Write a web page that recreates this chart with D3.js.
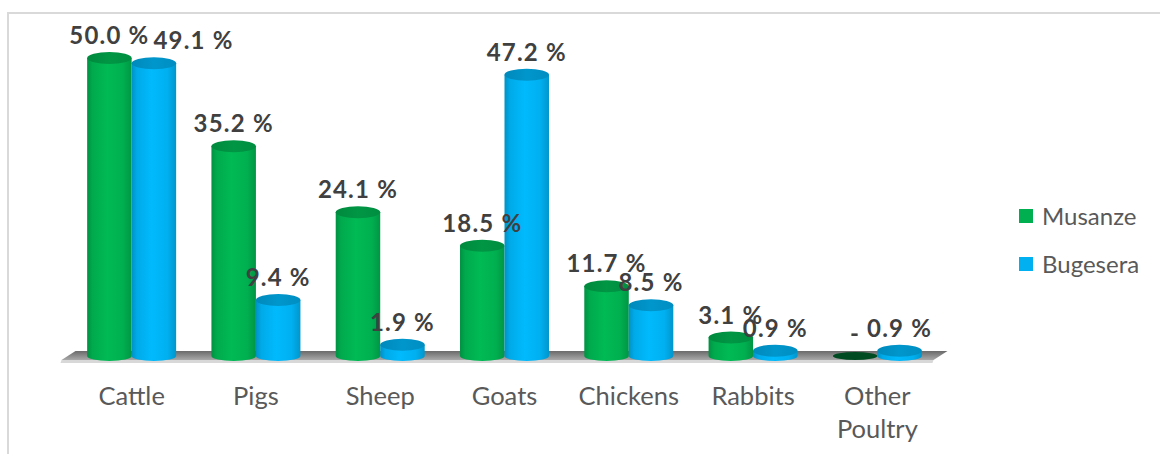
<!DOCTYPE html>
<html>
<head>
<meta charset="utf-8">
<script src="https://cdn.jsdelivr.net/npm/d3@7"></script>
<style>
  html, body { margin: 0; padding: 0; background: #fff; }
  svg { display: block; }
</style>
</head>
<body>
<svg id="chart" width="1160" height="454"></svg>
<script>
const categories = ["Cattle", "Pigs", "Sheep", "Goats", "Chickens", "Rabbits", "Other Poultry"];
const seriesNames = ["Musanze", "Bugesera"];
const musanze = [50.0, 35.2, 24.1, 18.5, 11.7, 3.1, 0];
const bugesera = [49.1, 9.4, 1.9, 47.2, 8.5, 0.9, 0.9];
const seriesColors = ["#00B050", "#00B0F0"];

const svg = d3.select("#chart");
const W = 1160, H = 454;
const FONT = "Lato, 'Open Sans', sans-serif";

// frame
svg.append("path").attr("d", `M8,${H} L8,13 L${W},13`)
  .attr("fill", "none").attr("stroke", "#d9d9d9").attr("stroke-width", 2);

const x0 = d3.scaleBand().domain(categories).range([69.5, 939.5]).paddingInner(0).paddingOuter(0);
const groupW = x0.bandwidth() * 0.716;
const x1 = d3.scaleBand().domain(seriesNames).range([0, groupW]).padding(0);
const y = d3.scaleLinear().domain([0, 50]).range([356, 58]);

const defs = svg.append("defs");
function shade(c, k) { return d3.color(c).darker(k).formatHex(); }
function lift(c, k) { return d3.color(c).brighter(k).formatHex(); }
seriesColors.forEach((c, i) => {
  const g = defs.append("linearGradient").attr("id", "body" + i).attr("x1", 0).attr("x2", 1).attr("y1", 0).attr("y2", 0);
  g.append("stop").attr("offset", 0).attr("stop-color", shade(c, 0.55));
  g.append("stop").attr("offset", 0.12).attr("stop-color", shade(c, 0.1));
  g.append("stop").attr("offset", 0.45).attr("stop-color", lift(c, 0.15));
  g.append("stop").attr("offset", 0.8).attr("stop-color", c);
  g.append("stop").attr("offset", 1).attr("stop-color", shade(c, 0.45));
  const t = defs.append("linearGradient").attr("id", "top" + i).attr("x1", 0).attr("x2", 1).attr("y1", 0).attr("y2", 0);
  t.append("stop").attr("offset", 0).attr("stop-color", shade(c, 0.7));
  t.append("stop").attr("offset", 0.5).attr("stop-color", shade(c, 0.45));
  t.append("stop").attr("offset", 1).attr("stop-color", shade(c, 0.6));
});
const fg = defs.append("linearGradient").attr("id", "floor").attr("x1", 0).attr("x2", 0).attr("y1", 0).attr("y2", 1);
fg.append("stop").attr("offset", 0).attr("stop-color", "#6a6a6a");
fg.append("stop").attr("offset", 1).attr("stop-color", "#a9a9a9");

// floor
const [rx0, rx1] = x0.range();
const yF = y(0);
svg.append("path")
  .attr("d", `M${rx0 + 6},${yF - 5} L${rx1 + 8},${yF - 5} L${rx1 - 6},${yF + 4} L${rx0 - 8},${yF + 4} Z`)
  .attr("fill", "url(#floor)");
svg.append("path")
  .attr("d", `M${rx0 - 8},${yF + 4} L${rx1 - 6},${yF + 4} L${rx1 - 7},${yF + 7} L${rx0 - 9},${yF + 7} Z`)
  .attr("fill", "#d8d8d8");

const ry = 6;
const data = [musanze, bugesera];
const labelLayer = [];

data.forEach((vals, si) => {
  const g = svg.append("g");
  categories.forEach((cat, ci) => {
    const v = vals[ci];
    const bx = x0(cat) + (x0.bandwidth() - groupW) / 2 + x1(seriesNames[si]);
    const bw = x1.bandwidth();
    const cx = bx + bw / 2;
    const yt = y(v), yb = y(0);
    if (v > 0) {
      g.append("path")
        .attr("d", `M${bx},${yt} L${bx},${yb} A${bw / 2},${ry - 1} 0 0 0 ${bx + bw},${yb} L${bx + bw},${yt} Z`)
        .attr("fill", `url(#body${si})`);
      g.append("ellipse").attr("cx", cx).attr("cy", yt).attr("rx", bw / 2).attr("ry", ry)
        .attr("fill", `url(#top${si})`);
    } else {
      g.append("ellipse").attr("cx", cx).attr("cy", yb).attr("rx", bw / 2).attr("ry", ry - 2)
        .attr("fill", shade(seriesColors[si], 2.4));
    }
    labelLayer.push({ si, ci, cx, yt, text: v > 0 ? d3.format(".1f")(v) + " %" : "-" });
  });
});

// value labels
const lg = svg.append("g").attr("font-family", FONT).attr("font-weight", "bold")
  .attr("font-size", 24).attr("fill", "#404040").attr("letter-spacing", 1.2);
const placed = {};
labelLayer.forEach(L => {
  const t = lg.append("text").attr("x", L.cx).attr("y", L.yt - ry - 8)
    .attr("text-anchor", "middle").text(L.text);
  if (L.si === 0) placed[L.ci] = { node: t.node(), yt: L.yt };
  else {
    const p = placed[L.ci];
    if (p && Math.abs(p.yt - L.yt) < 12) {
      const pb = p.node.getBBox();
      const b = t.node().getBBox();
      if (b.x < pb.x + pb.width + 4) {
        t.attr("text-anchor", "start").attr("x", pb.x + pb.width + 4);
      }
    }
  }
});

// category labels
const cg = svg.append("g").attr("font-family", FONT).attr("font-size", 25.5).attr("fill", "#595959");
categories.forEach(cat => {
  const words = cat.split(" ");
  const t = cg.append("text").attr("x", x0(cat) + x0.bandwidth() / 2).attr("y", 405).attr("text-anchor", "middle");
  words.forEach((w, i) => {
    t.append("tspan").attr("x", x0(cat) + x0.bandwidth() / 2).attr("dy", i === 0 ? 0 : 33).text(w);
  });
});

// legend
const leg = svg.append("g").attr("font-family", FONT).attr("font-size", 24).attr("fill", "#595959");
seriesNames.forEach((s, i) => {
  const ly = 225 + i * 48;
  leg.append("rect").attr("x", 1019).attr("y", ly - 16).attr("width", 14).attr("height", 14).attr("fill", seriesColors[i]);
  leg.append("text").attr("x", 1042).attr("y", ly).text(s);
});
</script>
</body>
</html>
